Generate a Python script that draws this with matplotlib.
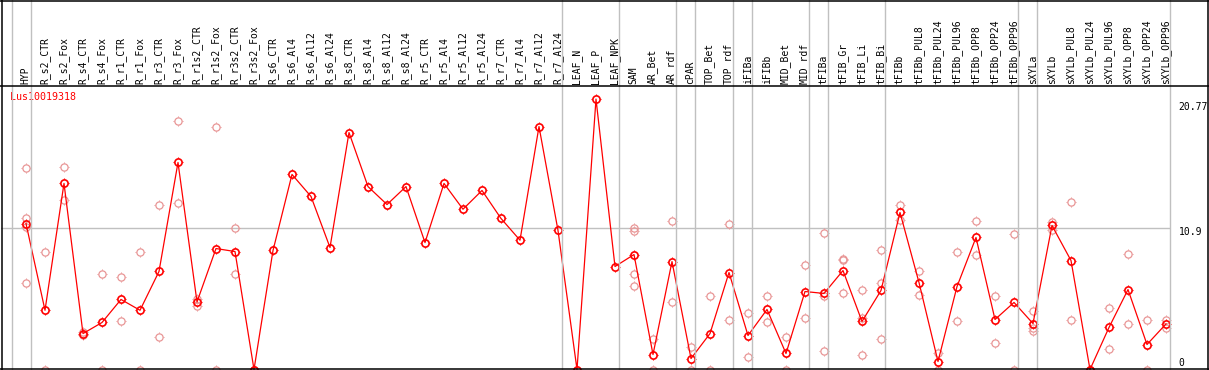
import matplotlib
matplotlib.use("Agg")
import matplotlib.pyplot as plt
from matplotlib.path import Path
from matplotlib.lines import Line2D
import matplotlib.transforms as mtransforms
import numpy as np

gene = "Lus10019318"

categories = [
    "HYP", "R_s2_CTR", "R_s2_Fox", "R_s4_CTR", "R_s4_Fox", "R_r1_CTR", "R_r1_Fox",
    "R_r3_CTR", "R_r3_Fox", "R_r1s2_CTR", "R_r1s2_Fox", "R_r3s2_CTR", "R_r3s2_Fox",
    "R_s6_CTR", "R_s6_Al4", "R_s6_Al12", "R_s6_Al24", "R_s8_CTR", "R_s8_Al4",
    "R_s8_Al12", "R_s8_Al24", "R_r5_CTR", "R_r5_Al4", "R_r5_Al12", "R_r5_Al24",
    "R_r7_CTR", "R_r7_Al4", "R_r7_Al12", "R_r7_Al24", "LEAF_N", "LEAF_P", "LEAF_NPK",
    "SAM", "AR_Bet", "AR_rdf", "cPAR", "TOP_Bet", "TOP_rdf", "iFIBa", "iFIBb",
    "MID_Bet", "MID_rdf", "tFIBa", "tFIB_Gr", "tFIB_Li", "tFIB_Bi", "tFIBb",
    "tFIBb_PUL8", "tFIBb_PUL24", "tFIBb_PUL96", "tFIBb_OPP8", "tFIBb_OPP24",
    "tFIBb_OPP96", "sXYLa", "sXYLb", "sXYLb_PUL8", "sXYLb_PUL24", "sXYLb_PUL96",
    "sXYLb_OPP8", "sXYLb_OPP24", "sXYLb_OPP96",
]

means = [
    11.21, 4.55, 14.29, 2.76, 3.61, 5.38, 4.55, 7.53, 15.90, 5.19, 9.29, 9.06, 0.0,
    9.14, 14.98, 13.29, 9.37, 18.20, 14.05, 12.67, 14.05, 9.75, 14.29, 12.31, 13.75,
    11.60, 9.93, 18.66, 10.68,
    0.0, 20.77, 7.91,
    8.83, 1.15, 8.29, 0.84, 2.76, 7.45, 2.61, 4.61, 1.23, 5.99, 5.84, 7.60, 3.69, 6.07,
    12.06, 6.68, 0.61, 6.37, 10.14, 3.84, 5.15,
    3.53, 11.06, 8.37, 0.0, 3.23, 6.14, 1.92, 3.50,
]

replicates = [
    [15.51, 11.65, 10.96, 6.68],  # HYP
    [9.06, 0.0], [15.59, 13.0], [2.90, 2.62], [7.30, 0.0], [7.07, 3.69], [9.06, 0.0],
    [12.6, 2.46], [19.12, 12.75], [5.40, 4.89], [18.59, 0.0], [10.83, 7.30], [0.0, 0.0],
    [], [], [], [], [], [], [], [], [], [], [], [], [], [], [], [],
    [], [], [],
    [10.83, 10.65, 7.37, 6.45],  # SAM
    [2.33, 0.0], [11.44, 5.17], [1.69, 0.0], [5.61, 0.0], [11.14, 3.79],
    [4.32, 0.94], [5.61, 3.61], [2.48, 0.0], [8.06, 3.94],
    [10.52, 5.61, 1.41], [8.52, 8.40, 5.91], [6.14, 3.94, 1.08], [9.14, 6.65, 2.38],
    [12.67, 11.47], [7.53, 5.76], [1.28, 0.0], [9.06, 3.69], [11.44, 8.76],
    [5.61, 2.07], [10.37, 0.0],
    [4.48, 3.15, 2.97], [11.34, 10.75], [12.90, 3.84], [0.0, 0.0], [4.76, 1.61],
    [8.86, 3.46], [3.84, 0.0], [3.84, 3.15],
]

group_starts = ["HYP", "R_s2_CTR", "LEAF_N", "SAM", "cPAR", "TOP_Bet", "iFIBa", "iFIBb",
                "tFIBa", "tFIB_Gr", "tFIBb", "sXYLa", "sXYLb"]

ytick_values = [0, 10.9, 20.77]
ytick_labels = ["0", "10.9", "20.77"]

# ---------------------------------------------------------------- layout
W, H = 1209, 370
fig = plt.figure(figsize=(W / 100, H / 100), dpi=100)

def fx(px):
    return px / W

def fy(py):
    return 1 - py / H

ax_left, ax_right, ax_top, ax_bottom = 1.0, 1170.5, 85.5, 369.5
ax = fig.add_axes([fx(ax_left), fy(ax_bottom), fx(ax_right - ax_left), (ax_bottom - ax_top) / H])
for s in ax.spines.values():
    s.set_visible(False)
ax.set_xticks([])
ax.set_yticks([])
ax.patch.set_alpha(0)

n = len(categories)
x = np.arange(n)
step = 19.0
ax.set_xlim((ax_left - 26) / step, (ax_right - 26) / step)
ppu = 13.02
ax.set_ylim(0, (ax_bottom - ax_top) / ppu)

red = "#ff0000"
faint = "#e89595"
grey = "#c0c0c0"
mono = "DejaVu Sans Mono"

# tick marker: four short ticks just outside a circle
tick_verts = [(0, 0.8), (0, 1.0), (0, -0.8), (0, -1.0), (0.8, 0), (1.0, 0), (-0.8, 0), (-1.0, 0)]
tick_codes = [Path.MOVETO, Path.LINETO] * 4
tick_path = Path(tick_verts, tick_codes)

circle_ms = 5.2
tick_ms = 6.6

# gridline
ax.axhline(10.9, color=grey, lw=1.0, zorder=1)

# group separators (full height)
blend = mtransforms.blended_transform_factory(ax.transData, fig.transFigure)
for name in group_starts + [None]:
    i = categories.index(name) if name is not None else n
    xs = i - 14.5 / step
    fig.add_artist(Line2D([xs, xs], [0, 1], transform=blend, color=grey, lw=1.0, zorder=1))

# replicates
rx, ry = [], []
for i, reps in enumerate(replicates):
    for v in reps:
        rx.append(i)
        ry.append(v)
ax.plot(rx, ry, linestyle="none", marker="o", markersize=circle_ms,
        markeredgecolor=faint, markerfacecolor="none", markeredgewidth=0.9, zorder=2)
ax.plot(rx, ry, linestyle="none", marker=tick_path, markersize=tick_ms,
        markeredgecolor=faint, markerfacecolor="none", markeredgewidth=0.7, zorder=2)

# mean line
ax.plot(x, means, color=red, lw=0.9, zorder=3)
ax.plot(x, means, linestyle="none", marker="o", markersize=circle_ms,
        markeredgecolor=red, markerfacecolor="none", markeredgewidth=1.2, zorder=4)
ax.plot(x, means, linestyle="none", marker=tick_path, markersize=tick_ms,
        markeredgecolor=red, markerfacecolor="none", markeredgewidth=0.8, zorder=4)

# category labels
for i, c in enumerate(categories):
    ax.text(i - 0.02, fy(83.5), c, transform=blend, rotation=90, ha="center", va="bottom",
            fontsize=7, family=mono, color="black")

# y labels on the right
offs = {0: 7, 10.9: -4, 20.77: -8}
for v, lab in zip(ytick_values, ytick_labels):
    ax.annotate(lab, xy=(1, v), xycoords=("axes fraction", "data"),
                xytext=(8, offs[v]), textcoords="offset pixels", ha="left", va="center",
                fontsize=7, family=mono, color="black", annotation_clip=False)

# gene name
ax.annotate(gene, xy=(0, 1), xycoords="axes fraction", xytext=(9, -12),
            textcoords="offset pixels", ha="left", va="center", fontsize=7.2,
            family=mono, color=red)

# border lines
def hline(py, x0=0.0, x1=W, color="black"):
    fig.add_artist(Line2D([fx(x0), fx(x1)], [fy(py), fy(py)], transform=fig.transFigure,
                          color=color, lw=1.1, zorder=5))

def vline(px, y0=0.0, y1=H, color="black"):
    fig.add_artist(Line2D([fx(px), fx(px)], [fy(y0), fy(y1)], transform=fig.transFigure,
                          color=color, lw=1.1, zorder=5))

hline(0.6)
hline(85.5)
hline(369.3)
vline(1.5)
vline(1208.4)

fig.savefig("out.png", dpi=100)
